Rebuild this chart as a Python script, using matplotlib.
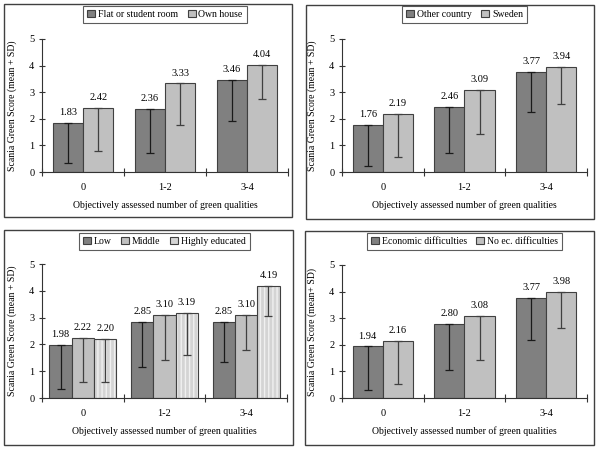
import matplotlib
matplotlib.use("Agg")
import matplotlib.pyplot as plt
from matplotlib.patches import Rectangle
import numpy as np

plt.rcParams['font.family'] = ['Liberation Serif', 'DejaVu Serif']

categories = ["0", "1-2", "3-4"]
xlabel = "Objectively assessed number of green qualities"

# Panel 1: housing
p1_names = ["Flat or student room", "Own house"]
p1_means = [[1.83, 2.36, 3.46], [2.42, 3.33, 4.04]]
p1_sd = [[1.49, 1.64, 1.56], [1.63, 1.55, 1.29]]

# Panel 2: country of birth
p2_names = ["Other country", "Sweden"]
p2_means = [[1.76, 2.46, 3.77], [2.19, 3.09, 3.94]]
p2_sd = [[1.54, 1.76, 1.52], [1.64, 1.66, 1.39]]

# Panel 3: education
p3_names = ["Low", "Middle", "Highly educated"]
p3_means = [[1.98, 2.85, 2.85], [2.22, 3.10, 3.10], [2.20, 3.19, 4.19]]
p3_heights = [[1.98, 2.85, 2.85], [2.25, 3.10, 3.10], [2.22, 3.19, 4.19]]
p3_sd = [[1.64, 1.71, 1.49], [1.64, 1.67, 1.32], [1.62, 1.60, 1.14]]

# Panel 4: economy
p4_names = ["Economic difficulties", "No ec. difficulties"]
p4_means = [[1.94, 2.80, 3.77], [2.16, 3.08, 3.98]]
p4_sd = [[1.65, 1.76, 1.58], [1.65, 1.67, 1.34]]

W, H = 600, 451
fig = plt.figure(figsize=(6.0, 4.51), dpi=100)

def fx(px):
    return px / W

def fy(py):
    return 1 - py / H

DARK = "#808080"
LIGHT = "#c0c0c0"
HATCHFACE = "#d4d4d4"

def panel(box, axbox, names, means, sds, ylabel, heights=None, legend_top=6):
    bx0, by0, bx1, by1 = box
    fig.patches.append(Rectangle((fx(bx0), fy(by1)), fx(bx1 - bx0), (by1 - by0) / H,
                                 transform=fig.transFigure, fill=False,
                                 edgecolor="#404040", linewidth=1.0))
    ax_x0, ax_x1, ax_y5, ax_y0 = axbox
    ax = fig.add_axes([fx(ax_x0), fy(ax_y0), fx(ax_x1 - ax_x0), (ax_y0 - ax_y5) / H])
    n = len(names)
    total = 0.74 if n == 2 else 0.82
    bw = total / n
    x = np.arange(len(categories)) + 0.5
    handles = []
    for i in range(n):
        xs = x - total / 2 + bw * (i + 0.5)
        h = means[i] if heights is None else heights[i]
        if n == 3 and i == 2:
            face = HATCHFACE
            ax.bar(xs, h, width=bw, color=face, edgecolor="#f0f0f0", linewidth=0,
                   hatch="||||", zorder=2)
            ax.bar(xs, h, width=bw, fill=False, edgecolor="#404040", linewidth=0.8, zorder=3)
            hnd = Rectangle((0, 0), 1, 1, facecolor=face, edgecolor="#404040", linewidth=0.8)
        else:
            face = DARK if i == 0 else LIGHT
            ax.bar(xs, h, width=bw, color=face, edgecolor="#404040", linewidth=0.8, zorder=2)
            hnd = Rectangle((0, 0), 1, 1, facecolor=face, edgecolor="#404040", linewidth=0.8)
        handles.append(hnd)
        ecol = "#1a1a1a" if i == 0 else "#404040"
        ax.errorbar(xs, h, yerr=[sds[i], [0] * len(xs)], fmt="none", ecolor=ecol,
                    elinewidth=0.9, capsize=3, capthick=0.9, zorder=4)
        for xi, hi, m in zip(xs, h, means[i]):
            ax.text(xi, hi + 0.22, f"{m:.2f}", ha="center", va="bottom", fontsize=7.5)
    ax.set_xlim(0, 3)
    ax.set_ylim(0, 5)
    ax.spines["top"].set_visible(False)
    ax.spines["right"].set_visible(False)
    for s in ("left", "bottom"):
        ax.spines[s].set_linewidth(0.8)
        ax.spines[s].set_color("#333333")
    ax.set_yticks([0, 1, 2, 3, 4, 5])
    ax.tick_params(axis="y", direction="inout", length=5, width=0.8, labelsize=7.5, pad=3,
                   color="#333333")
    ax.set_xticks(x)
    ax.set_xticklabels(categories)
    ax.set_xticks([0, 1, 2, 3], minor=True)
    ax.tick_params(axis="x", which="major", length=0, labelsize=7.5, pad=8)
    ax.tick_params(axis="x", which="minor", direction="inout", length=6, width=0.8,
                   color="#333333")
    ax.set_xlabel(xlabel, fontsize=7, labelpad=6)
    ax.set_ylabel(ylabel, fontsize=7, labelpad=9)
    top_axes = (ax_y0 - legend_top) / (ax_y0 - ax_y5)
    leg = ax.legend(handles, names, loc="upper center", bbox_to_anchor=(0.5, top_axes),
                    ncol=n, fontsize=7, frameon=True, fancybox=False, handlelength=0.8,
                    handleheight=0.8, handletextpad=0.3, columnspacing=1.0,
                    borderpad=0.4, borderaxespad=0)
    leg.get_frame().set_edgecolor("#333333")
    leg.get_frame().set_linewidth(0.8)
    return ax

panel((4, 4, 292, 217), (42, 288, 39, 172), p1_names, p1_means, p1_sd,
      "Scania Green Score (mean + SD)", legend_top=6)
panel((306, 5, 594, 219), (342, 587, 39, 172), p2_names, p2_means, p2_sd,
      "Scania Green Score (mean + SD)", legend_top=6)
panel((4, 230, 293, 445), (42, 287, 264, 398), p3_names, p3_means, p3_sd,
      "Scania Green Score (mean + SD)", heights=p3_heights, legend_top=233)
panel((305, 231, 594, 445), (342, 587, 265, 398), p4_names, p4_means, p4_sd,
      "Scania Green Score (mean+ SD)", legend_top=233)

fig.savefig("out.png", dpi=100)
